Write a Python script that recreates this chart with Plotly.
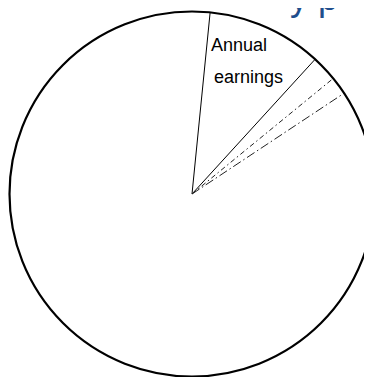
import numpy as np
import plotly.graph_objects as go

# ---- data ----
categories = ["Annual earnings", "Slice 2", "Slice 3", "Other"]
shares = [10.2, 2.3, 1.6, 85.9]          # percent of the whole
boundary_dash = ["solid", "solid", "5px,3px,1.5px,3px", "9px,3px,1.5px,3px"]
boundary_color = ["#000000", "#000000", "#222222", "#222222"]
title_fragment = "y p"

start_angle = 5.7  # degrees clockwise from 12 o'clock

total = float(sum(shares))
cum = np.cumsum([0.0] + shares[:-1])
angles = [start_angle + c / total * 360.0 for c in cum]

fig = go.Figure()
for ang, dash, col, name in zip(angles, boundary_dash, boundary_color, categories):
    fig.add_trace(go.Scatterpolar(
        r=[0, 1], theta=[ang, ang], mode="lines",
        line=dict(color=col, width=1, dash=dash),
        name=name, hoverinfo="skip", showlegend=False,
    ))

W, H = 372, 377
# the page body has an 8px margin, so positions are offset by 8px
fig.update_layout(
    width=W, height=H,
    margin=dict(l=0, r=0, t=0, b=0),
    paper_bgcolor="white",
    showlegend=False,
    polar=dict(
        domain=dict(x=[1.5 / W, 366.5 / W], y=[(H - 368.5) / H, (H - 3.5) / H]),
        bgcolor="white",
        radialaxis=dict(visible=False, range=[0, 1]),
        angularaxis=dict(
            direction="clockwise", rotation=90,
            showline=True, linecolor="black", linewidth=2.2,
            showticklabels=False, ticks="", showgrid=False,
        ),
    ),
)

label_words = categories[0].split(" ")
fig.add_annotation(
    text=label_words[0], x=201 / W, y=1 - 36.5 / H, xref="paper", yref="paper",
    xanchor="left", yanchor="middle", showarrow=False,
    font=dict(family="Liberation Sans, Arial", size=18, color="black"),
)
fig.add_annotation(
    text=label_words[1], x=204 / W, y=1 - 69.5 / H, xref="paper", yref="paper",
    xanchor="left", yanchor="middle", showarrow=False,
    font=dict(family="Liberation Sans, Arial", size=18, color="black"),
)
fig.add_annotation(
    text=title_fragment, x=280 / W, y=1 + 11 / H, xref="paper", yref="paper",
    xanchor="left", yanchor="middle", showarrow=False,
    font=dict(family="Liberation Sans, Arial", size=36, color="#1f4e8c"),
)

fig.write_html("out.html")
